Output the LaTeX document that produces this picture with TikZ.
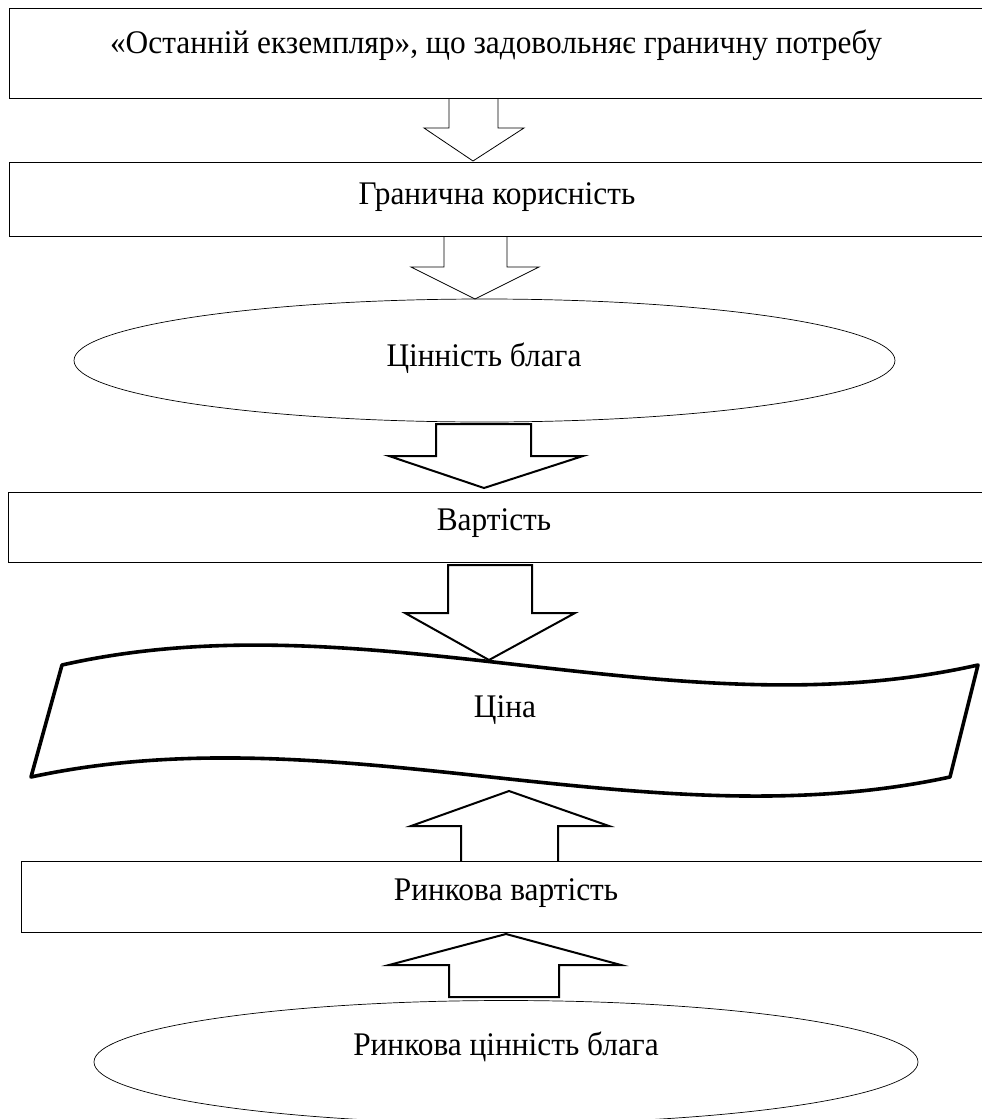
\documentclass[tikz,border=0pt]{standalone}
\usepackage{fontspec}
\setmainfont{Liberation Serif}
\usetikzlibrary{shapes.geometric}
\newcommand{\narrowtxt}[1]{\scalebox{0.95}[1]{#1}}
\begin{document}
\begin{tikzpicture}[x=1pt,y=-1pt,
  box/.style={draw,line width=0.8pt,rectangle,inner sep=0pt,anchor=north west},
  oval/.style={draw,line width=0.7pt,ellipse,inner sep=0pt},
  lbl/.style={font=\fontsize{33}{38}\selectfont,inner sep=0pt},
  thinarrow/.style={draw,line width=0.8pt,line join=miter},
  thickarrow/.style={draw,line width=2pt,line join=miter},
  tape/.style={draw,line width=3.6pt,line join=round}]
\useasboundingbox (0,0) rectangle (982,1119);
\clip (0,0) rectangle (982,1119);
% boxes
\node[box,minimum width=985pt,minimum height=90pt] (b1) at (9,8) {};
\node[lbl] (t1) at (496,45) {\narrowtxt{«Останній екземпляр», що задовольняє граничну потребу}};
\node[box,minimum width=985pt,minimum height=74pt] (b2) at (9,162) {};
\node[lbl] (t2) at (497,197) {\narrowtxt{Гранична корисність}};
\node[oval,minimum width=821pt,minimum height=123pt] (e1) at (484.5,360.5) {};
\node[lbl] (t3) at (484,358) {\narrowtxt{Цінність блага}};
\node[box,minimum width=985pt,minimum height=70pt] (b3) at (8,492) {};
\node[lbl] (t4) at (494,523) {\narrowtxt{Вартість}};
% tape (Ціна)
\draw[tape] (62,665) .. controls (367,596) and (673,734) .. (978,665)
  -- (950,777) .. controls (644,843) and (337,711) .. (31,777) -- cycle;
\node[lbl] (t5) at (505,710) {\narrowtxt{Ціна}};
\node[box,minimum width=985pt,minimum height=71pt] (b4) at (21,861) {};
\node[lbl] (t6) at (506,893) {\narrowtxt{Ринкова вартість}};
\node[oval,minimum width=824pt,minimum height=123pt] (e2) at (506,1062) {};
\node[lbl] (t7) at (506,1047) {\narrowtxt{Ринкова цінність блага}};
% block arrows
\draw[thinarrow] (449,98) -- (449,128) -- (424,128) -- (473,161) -- (524,128) -- (498,128) -- (498,98);
\draw[thinarrow] (444,236) -- (444,267) -- (411,267) -- (475,299) -- (539,267) -- (507,267) -- (507,236);
\draw[thickarrow] (436,424) -- (436,456) -- (389,456) -- (484,488) -- (583,456) -- (531,456) -- (531,424) -- cycle;
\draw[thickarrow] (448,565) -- (448,613) -- (405,613) -- (489,660) -- (575,613) -- (532,613) -- (532,565) -- cycle;
\draw[thickarrow] (461,861) -- (461,826) -- (411,826) -- (509,791) -- (609,826) -- (558,826) -- (558,861);
\draw[thickarrow] (449,997) -- (449,965) -- (389,965) -- (506,934) -- (621,965) -- (559,965) -- (559,997) -- cycle;
\end{tikzpicture}
\end{document}
